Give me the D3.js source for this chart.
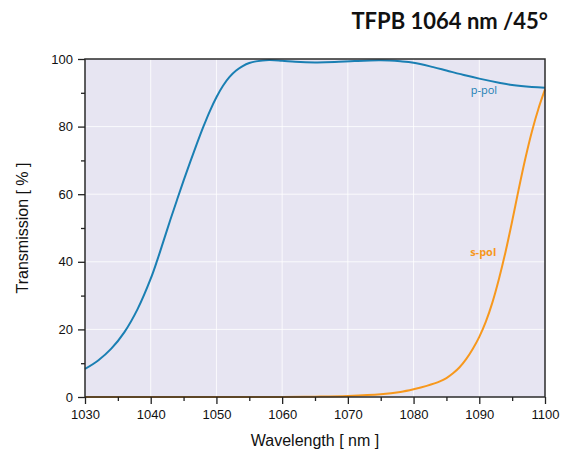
<!DOCTYPE html>
<html>
<head>
<meta charset="utf-8">
<script src="https://cdn.jsdelivr.net/npm/d3@7"></script>
<style>
	body { margin: 0; background: #fff; }
	svg { display: block; }
</style>
</head>
<body>
<div class="chart"></div>
<script>
// wavelength [nm] and transmission [%]
const pWave = [1030, 1032, 1034, 1036, 1038, 1040, 1041, 1042, 1043, 1044, 1045, 1046, 1047, 1048, 1049, 1050, 1051, 1052, 1053, 1054, 1055, 1056, 1058, 1060, 1062, 1065, 1068, 1071, 1075, 1078, 1080, 1083, 1085, 1088, 1090, 1093, 1095, 1098, 1100];
const pTrans = [8.3, 10.8, 14.3, 19.2, 26, 35, 40.5, 46.5, 52.5, 58.3, 64, 69.5, 74.8, 79.9, 84.6, 88.7, 92.1, 94.7, 96.6, 97.9, 98.8, 99.3, 99.7, 99.5, 99.2, 99, 99.1, 99.4, 99.6, 99.3, 98.9, 97.6, 96.6, 95.1, 94.2, 93, 92.3, 91.7, 91.5];

const sWave = [1030, 1050, 1060, 1065, 1070, 1075, 1078, 1080, 1082, 1084, 1085, 1086, 1087, 1088, 1089, 1090, 1091, 1092, 1093, 1094, 1095, 1096, 1097, 1098, 1099, 1100];
const sTrans = [0, 0, 0, 0.1, 0.3, 0.8, 1.5, 2.3, 3.3, 4.6, 5.6, 7, 8.8, 11.2, 14.2, 17.8, 22.3, 28, 35, 43, 52, 61.5, 70.5, 78.5, 85.3, 91];

const xTicks = [1030, 1040, 1050, 1060, 1070, 1080, 1090, 1100];
const yTicks = [0, 20, 40, 60, 80, 100];

const title = "TFPB 1064 nm /45°";
const labelX = "Wavelength [ nm ]";
const labelY = "Transmission [ % ]";

const blue = "#1a7fb3";
const orange = "#f7981d";

const margin = { top: 59, right: 24, bottom: 55, left: 85 },
	width = 569 - margin.left - margin.right,
	height = 452 - margin.top - margin.bottom;

const x = d3.scaleLinear().domain([1030, 1100]).range([0, width]);
const y = d3.scaleLinear().domain([0, 100]).range([height, 0]);

const root = d3
	.select(".chart")
	.append("svg")
	.attr("width", 569)
	.attr("height", 452);

root.append("text")
	.attr("x", 548)
	.attr("y", 29)
	.attr("text-anchor", "end")
	.attr("fill", "#111")
	.style("font", "bold 22px Lato, sans-serif")
	.text(title);

const svg = root
	.append("g")
	.attr("transform", "translate(" + margin.left + "," + margin.top + ")");

svg.append("rect")
	.attr("width", width)
	.attr("height", height)
	.attr("fill", "#e7e5f2");

// grid
svg.append("g")
	.selectAll("line")
	.data(xTicks.slice(1, -1))
	.join("line")
	.attr("x1", (d) => x(d))
	.attr("x2", (d) => x(d))
	.attr("y1", 0)
	.attr("y2", height)
	.attr("stroke", "#fff")
	.attr("stroke-opacity", 0.8);

svg.append("g")
	.selectAll("line")
	.data(yTicks.slice(1, -1))
	.join("line")
	.attr("y1", (d) => y(d))
	.attr("y2", (d) => y(d))
	.attr("x1", 0)
	.attr("x2", width)
	.attr("stroke", "#fff")
	.attr("stroke-opacity", 0.8);

const line = d3
	.line()
	.x((d) => x(d[0]))
	.y((d) => y(d[1]))
	.curve(d3.curveCatmullRom.alpha(0.5));

svg.append("path")
	.datum(d3.zip(sWave, sTrans))
	.attr("fill", "none")
	.attr("stroke", orange)
	.attr("stroke-width", 2)
	.attr("d", line);

svg.append("path")
	.datum(d3.zip(pWave, pTrans))
	.attr("fill", "none")
	.attr("stroke", blue)
	.attr("stroke-width", 2)
	.attr("d", line);

// frame
svg.append("rect")
	.attr("width", width)
	.attr("height", height)
	.attr("fill", "none")
	.attr("stroke", "#2b2b2b")
	.attr("stroke-width", 1.5);

const tickFont = "13px 'Liberation Sans', Arial, sans-serif";

// minor ticks
svg.append("g")
	.attr("transform", "translate(0," + height + ")")
	.call(d3.axisBottom(x).tickValues(d3.range(1035, 1100, 10)).tickSize(4).tickFormat(""))
	.call((g) => g.select(".domain").remove())
	.selectAll("line").attr("stroke", "#222").attr("stroke-width", 1.3);

svg.append("g")
	.call(d3.axisLeft(y).tickValues(d3.range(10, 100, 20)).tickSize(4).tickFormat(""))
	.call((g) => g.select(".domain").remove())
	.selectAll("line").attr("stroke", "#222").attr("stroke-width", 1.3);

svg.append("g")
	.attr("transform", "translate(0," + height + ")")
	.call(d3.axisBottom(x).tickValues(xTicks).tickFormat(d3.format("d")).tickSize(7).tickPadding(6))
	.call((g) => g.select(".domain").remove())
	.call((g) => g.selectAll("line").attr("stroke", "#222").attr("stroke-width", 1.3))
	.call((g) => g.selectAll("text").attr("fill", "#111").style("font", tickFont));

svg.append("g")
	.call(d3.axisLeft(y).tickValues(yTicks).tickSize(7).tickPadding(5))
	.call((g) => g.select(".domain").remove())
	.call((g) => g.selectAll("line").attr("stroke", "#222").attr("stroke-width", 1.3))
	.call((g) => g.selectAll("text").attr("fill", "#111").style("font", tickFont));

// series labels
svg.append("text")
	.attr("x", x(1090.7))
	.attr("y", y(89.6))
	.attr("text-anchor", "middle")
	.attr("fill", blue)
	.style("font", "11px 'Open Sans', sans-serif")
	.text("p-pol");

svg.append("text")
	.attr("x", x(1090.6))
	.attr("y", y(41.7))
	.attr("text-anchor", "middle")
	.attr("fill", orange)
	.style("font", "bold 11px 'Open Sans', sans-serif")
	.text("s-pol");

// axis titles
root.append("text")
	.attr("x", margin.left + width / 2)
	.attr("y", 446)
	.attr("text-anchor", "middle")
	.attr("fill", "#111")
	.style("font", "16px 'Liberation Sans', Arial, sans-serif")
	.text(labelX);

root.append("text")
	.attr("transform", "translate(28," + (margin.top + height / 2) + ") rotate(-90)")
	.attr("text-anchor", "middle")
	.attr("fill", "#111")
	.style("font", "16px 'Liberation Sans', Arial, sans-serif")
	.text(labelY);
</script>
</body>
</html>
